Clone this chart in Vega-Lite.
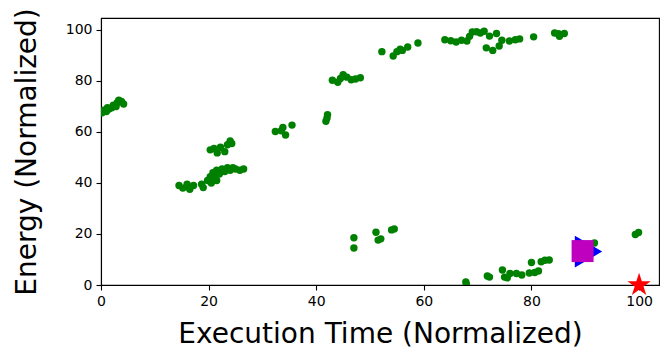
{
  "$schema": "https://vega.github.io/schema/vega-lite/v6.json",
  "width": 558,
  "height": 267,
  "autosize": "none",
  "padding": {"left": 101, "top": 18, "right": 2, "bottom": 71},
  "background": "white",
  "config": {
    "font": "DejaVu Sans",
    "view": {"stroke": "black", "strokeWidth": 1.1},
    "axis": {
      "grid": false,
      "domainColor": "black",
      "domainWidth": 1.1,
      "tickColor": "black",
      "tickWidth": 1.1,
      "tickSize": 5,
      "labelFont": "DejaVu Sans",
      "labelFontSize": 14,
      "labelColor": "black",
      "labelPadding": 4,
      "labelFlush": false,
      "titleFont": "DejaVu Sans",
      "titleFontSize": 28,
      "titleFontWeight": "normal",
      "titleColor": "black"
    }
  },
  "datasets": {
    "green": [
      {"x": 0.2, "y": 67.5}, {"x": 0.5, "y": 68.5}, {"x": 1.0, "y": 68.0}, {"x": 1.5, "y": 69.0},
      {"x": 2.0, "y": 69.5}, {"x": 2.3, "y": 70.5}, {"x": 3.0, "y": 71.5}, {"x": 3.3, "y": 72.5},
      {"x": 3.8, "y": 72.0}, {"x": 4.2, "y": 71.0}, {"x": 2.8, "y": 70.0}, {"x": 1.2, "y": 69.5},
      {"x": 14.5, "y": 39.0}, {"x": 15.2, "y": 38.0}, {"x": 16.0, "y": 38.5}, {"x": 16.5, "y": 37.5},
      {"x": 17.2, "y": 39.0}, {"x": 16.0, "y": 39.5}, {"x": 18.7, "y": 39.5}, {"x": 19.0, "y": 38.2},
      {"x": 19.8, "y": 41.0}, {"x": 20.3, "y": 42.5}, {"x": 20.8, "y": 44.0}, {"x": 21.2, "y": 42.0},
      {"x": 21.5, "y": 45.0}, {"x": 22.0, "y": 43.5}, {"x": 22.5, "y": 45.5}, {"x": 23.0, "y": 44.5},
      {"x": 23.5, "y": 46.0}, {"x": 24.0, "y": 45.0}, {"x": 24.5, "y": 46.0}, {"x": 25.0, "y": 45.5},
      {"x": 25.8, "y": 45.0}, {"x": 26.5, "y": 45.5}, {"x": 20.5, "y": 40.0}, {"x": 21.5, "y": 41.0},
      {"x": 20.3, "y": 53.0}, {"x": 21.0, "y": 53.5}, {"x": 21.6, "y": 51.8}, {"x": 22.2, "y": 54.0},
      {"x": 23.0, "y": 52.3}, {"x": 23.5, "y": 55.0}, {"x": 24.0, "y": 56.5}, {"x": 24.3, "y": 55.5},
      {"x": 32.4, "y": 60.2}, {"x": 33.8, "y": 61.8}, {"x": 34.3, "y": 58.8}, {"x": 35.5, "y": 62.7},
      {"x": 33.5, "y": 60.5},
      {"x": 41.8, "y": 64.2}, {"x": 42.0, "y": 65.5}, {"x": 42.1, "y": 66.8},
      {"x": 43.0, "y": 80.3}, {"x": 44.0, "y": 79.5}, {"x": 44.5, "y": 81.0}, {"x": 45.0, "y": 82.5},
      {"x": 45.7, "y": 81.5}, {"x": 46.5, "y": 80.5}, {"x": 47.3, "y": 80.8}, {"x": 48.2, "y": 81.3},
      {"x": 47.0, "y": 18.5}, {"x": 47.0, "y": 14.5},
      {"x": 51.1, "y": 20.7}, {"x": 51.5, "y": 17.6}, {"x": 52.0, "y": 18.1}, {"x": 54.0, "y": 21.6},
      {"x": 54.5, "y": 22.0},
      {"x": 52.2, "y": 91.5}, {"x": 54.3, "y": 89.8}, {"x": 55.0, "y": 91.5}, {"x": 55.6, "y": 92.5},
      {"x": 57.0, "y": 93.3}, {"x": 58.9, "y": 94.9}, {"x": 56.0, "y": 92.0},
      {"x": 63.9, "y": 96.2}, {"x": 65.0, "y": 95.8}, {"x": 66.0, "y": 95.3}, {"x": 67.0, "y": 96.0},
      {"x": 68.0, "y": 95.7}, {"x": 68.5, "y": 97.5}, {"x": 69.0, "y": 99.2}, {"x": 69.8, "y": 99.3},
      {"x": 70.5, "y": 98.8}, {"x": 71.2, "y": 99.5}, {"x": 71.6, "y": 93.0}, {"x": 72.2, "y": 97.6},
      {"x": 72.8, "y": 92.0}, {"x": 73.5, "y": 98.6}, {"x": 74.0, "y": 93.7}, {"x": 74.5, "y": 96.0},
      {"x": 75.9, "y": 95.7}, {"x": 77.0, "y": 96.2}, {"x": 77.8, "y": 96.5}, {"x": 80.4, "y": 97.3},
      {"x": 84.3, "y": 98.8}, {"x": 85.2, "y": 97.5}, {"x": 86.1, "y": 98.6}, {"x": 85.0, "y": 98.5},
      {"x": 67.8, "y": 1.2}, {"x": 67.9, "y": 0.3}, {"x": 71.8, "y": 3.5}, {"x": 72.2, "y": 3.1},
      {"x": 74.6, "y": 5.9}, {"x": 75.0, "y": 3.1}, {"x": 75.5, "y": 2.8}, {"x": 76.0, "y": 4.5},
      {"x": 77.2, "y": 4.5}, {"x": 78.2, "y": 3.9}, {"x": 79.6, "y": 4.7}, {"x": 80.0, "y": 8.8},
      {"x": 80.6, "y": 4.9}, {"x": 81.3, "y": 5.5}, {"x": 81.8, "y": 9.1}, {"x": 82.5, "y": 9.7},
      {"x": 83.3, "y": 9.8}, {"x": 91.7, "y": 16.5}, {"x": 99.3, "y": 19.8}, {"x": 99.9, "y": 20.6}
    ],
    "triangle": [{"x": 90.6, "y": 13.1}],
    "square": [{"x": 89.5, "y": 13.3}],
    "star": [{"x": 100.0, "y": 0.0}]
  },
  "encoding": {
    "x": {
      "field": "x", "type": "quantitative",
      "scale": {"domain": [0, 103.7], "nice": false, "zero": false},
      "axis": {"orient": "bottom", "values": [0, 20, 40, 60, 80, 100], "title": "Execution Time (Normalized)", "titleBaseline": "alphabetic", "titleY": 57}
    },
    "y": {
      "field": "y", "type": "quantitative",
      "scale": {"domain": [0, 104.7], "nice": false, "zero": false},
      "axis": {"orient": "left", "values": [0, 20, 40, 60, 80, 100], "title": "Energy (Normalized)", "titleBaseline": "alphabetic", "titleX": -66}
    }
  },
  "layer": [
    {
      "data": {"name": "green"},
      "mark": {"type": "circle", "size": 55, "color": "#008000", "opacity": 1, "clip": true}
    },
    {
      "data": {"name": "triangle"},
      "mark": {"type": "point", "shape": "triangle-right", "size": 1000, "filled": true, "color": "#0000ff", "opacity": 1, "clip": false}
    },
    {
      "data": {"name": "square"},
      "mark": {"type": "point", "shape": "square", "size": 484, "filled": true, "color": "#bf00bf", "opacity": 1, "clip": false}
    },
    {
      "data": {"name": "star"},
      "mark": {"type": "point", "shape": "M0,-1L0.2245,-0.309L0.951,-0.309L0.363,0.118L0.588,0.809L0,0.382L-0.588,0.809L-0.363,0.118L-0.951,-0.309L-0.2245,-0.309Z", "size": 600, "filled": true, "color": "#ff0000", "opacity": 1, "clip": false}
    }
  ]
}
